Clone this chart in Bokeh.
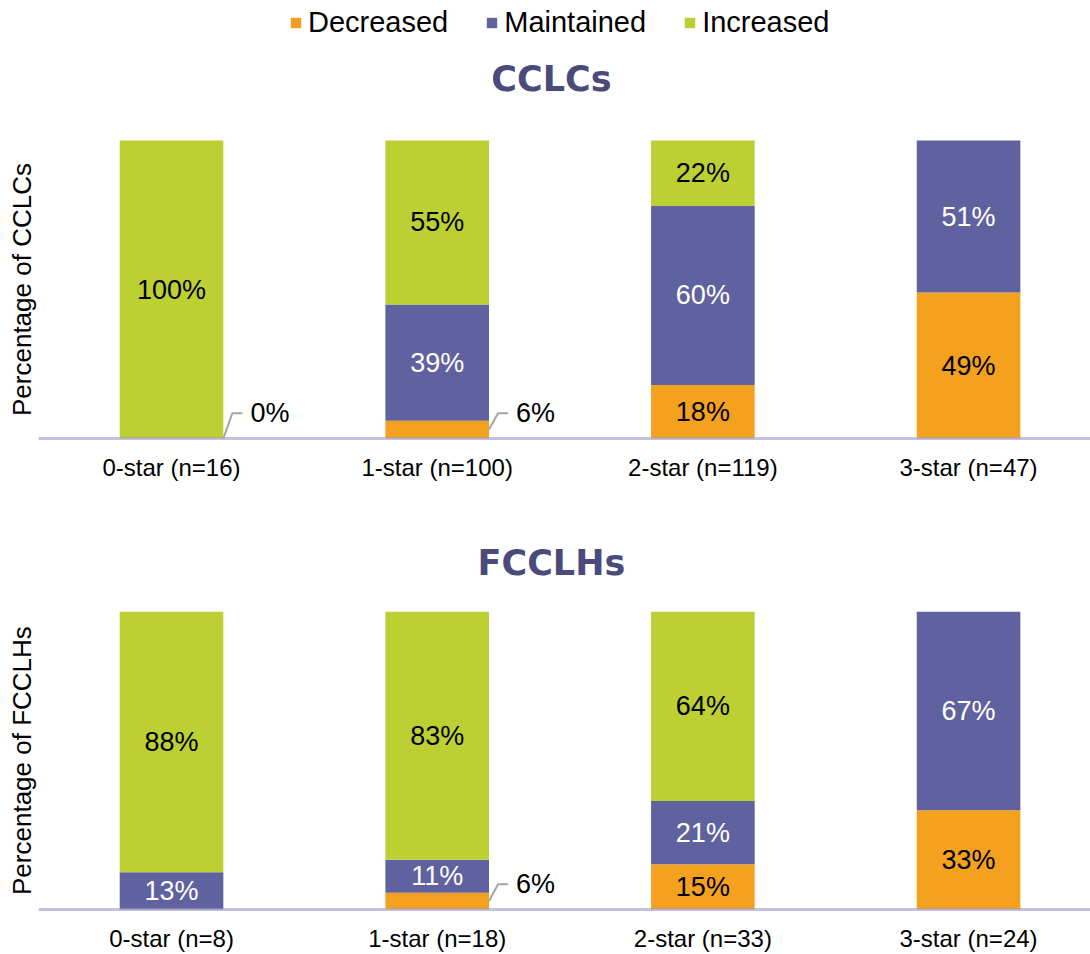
import numpy as np
from bokeh.plotting import figure
from bokeh.models import ColumnDataSource, Range1d, FixedTicker, Legend, LegendItem
from bokeh.layouts import column
from bokeh.core.properties import value
from bokeh.embed import file_html
from bokeh.resources import INLINE

# ---------------- data ----------------
series = ["Decreased", "Maintained", "Increased"]
colors = ["#F4A11F", "#6062A0", "#BDD033"]
label_colors = ["#000000", "#FFFFFF", "#000000"]

cclc_categories = ["0-star (n=16)", "1-star (n=100)", "2-star (n=119)", "3-star (n=47)"]
cclc_decreased = [0, 6, 18, 49]
cclc_maintained = [0, 39, 60, 51]
cclc_increased = [100, 55, 22, 0]
cclc_callouts = [0, 1]  # categories whose "Decreased" share is labelled outside the bar

fcclh_categories = ["0-star (n=8)", "1-star (n=18)", "2-star (n=33)", "3-star (n=24)"]
fcclh_decreased = [0, 5.6, 15.2, 33.3]
fcclh_maintained = [12.5, 11.1, 21.2, 66.7]
fcclh_increased = [87.5, 83.3, 63.6, 0]
fcclh_callouts = [1]

FONT = "Liberation Sans"
BAR_W = 0.39
X_START, X_END = -0.6437, 3.459


def pct(v):
    return f"{int(v + 0.5)}%"


def panel(title, ylabel, categories, dec, mai, inc, callouts, height,
          border_bottom, y_end, title_y, standoff, with_legend=False):
    xs = list(range(len(categories)))
    p = figure(width=1090, height=height,
               x_range=Range1d(X_START, X_END), y_range=Range1d(-1, y_end),
               output_backend="svg", toolbar_location=None,
               y_axis_location=None, x_axis_location="below",
               min_border_left=0, min_border_right=0, min_border_top=0,
               min_border_bottom=border_bottom)
    p.outline_line_color = None
    p.xgrid.visible = False
    p.ygrid.visible = False
    p.background_fill_color = "white"

    src = ColumnDataSource(dict(x=xs, Decreased=dec, Maintained=mai, Increased=inc))
    renderers = p.vbar_stack(series, x="x", width=BAR_W, color=colors,
                             line_color=None, source=src)

    # baseline
    p.segment(x0=[-0.5], y0=[0], x1=[X_END], y1=[0],
              line_color="#9C9AC8", line_alpha=0.6, line_width=3)

    # in-bar labels
    lx, ly, lt, lc = [], [], [], []
    stacks = [dec, mai, inc]
    for i in xs:
        bottom = 0
        for s, vals in enumerate(stacks):
            v = vals[i]
            if v >= 10:
                lx.append(i)
                ly.append(bottom + v / 2)
                lt.append(pct(v))
                lc.append(label_colors[s])
            bottom += v
    lsrc = ColumnDataSource(dict(x=lx, y=ly, text=lt, color=lc))
    p.text(x="x", y="y", text="text", text_color="color", source=lsrc,
           text_align="center", text_baseline="middle",
           text_font=value(FONT), text_font_size="27px")

    # callouts for small "Decreased" shares
    for i in callouts:
        d = dec[i]
        x0 = i + BAR_W / 2
        y0 = d / 2
        x1 = x0 + 0.034
        y1 = 8.5
        x2 = x1 + 0.038
        p.line(x=[x0, x1, x2], y=[y0, y1, y1], line_color="#A5A5A5", line_width=2)
        p.text(x=[x2 + 0.03], y=[y1], text=[pct(d)], text_align="left",
               text_baseline="middle", text_font=value(FONT),
               text_font_size="27px", text_color="#000000")

    # panel title
    p.text(x=[1.43], y=[title_y], text=[title], text_align="center",
           text_baseline="middle", text_font=value("DejaVu Sans"),
           text_font_style="bold", text_font_size="35px", text_color="#4B4A7A")

    # y axis label
    p.text(x=[-0.561], y=[50], text=[ylabel], angle=np.pi / 2,
           text_align="center", text_baseline="middle",
           text_font=value(FONT), text_font_size="26px", text_color="#000000")

    ax = p.xaxis[0]
    ax.ticker = FixedTicker(ticks=xs)
    ax.major_label_overrides = {i: c for i, c in enumerate(categories)}
    ax.axis_line_color = None
    ax.major_tick_line_color = None
    ax.minor_tick_line_color = None
    ax.major_tick_out = 0
    ax.major_tick_in = 0
    ax.major_label_standoff = standoff
    ax.major_label_text_font = FONT
    ax.major_label_text_font_size = "24px"
    ax.major_label_text_color = "#000000"

    if with_legend:
        legend = Legend(items=[LegendItem(label=s, renderers=[r])
                               for s, r in zip(series, renderers)],
                        location=(289, 402), orientation="horizontal",
                        glyph_width=13, glyph_height=13, label_standoff=6,
                        spacing=37, padding=0, margin=0,
                        border_line_color=None, background_fill_alpha=0,
                        label_text_font=FONT, label_text_font_size="29px",
                        label_text_color="#000000")
        p.add_layout(legend)
    return p


p1 = panel("CCLCs", "Percentage of CCLCs", cclc_categories, cclc_decreased,
           cclc_maintained, cclc_increased, cclc_callouts, height=490,
           border_bottom=49, y_end=147.0, title_y=120.8, standoff=12,
           with_legend=True)
p2 = panel("FCCLHs", "Percentage of FCCLHs", fcclh_categories, fcclh_decreased,
           fcclh_maintained, fcclh_increased, fcclh_callouts, height=464,
           border_bottom=39, y_end=140.67, title_y=116.33, standoff=12)

layout = column(p1, p2, spacing=0)
open("out.html", "w").write(file_html(layout, INLINE))
